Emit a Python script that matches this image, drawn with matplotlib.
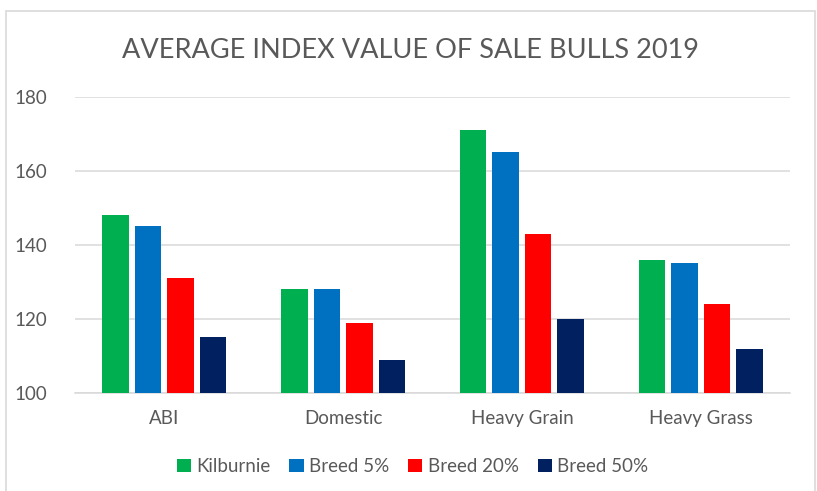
import matplotlib.pyplot as plt
from matplotlib.patches import Rectangle

# data
categories = ['ABI', 'Domestic', 'Heavy Grain', 'Heavy Grass']
series_names = ['Kilburnie', 'Breed 5%', 'Breed 20%', 'Breed 50%']
kilburnie = [148, 128, 171, 136]
breed_5 = [145, 128, 165, 135]
breed_20 = [131, 119, 143, 124]
breed_50 = [115, 109, 120, 112]
y_ticks = [100, 120, 140, 160, 180]

colors = ['#00B050', '#0070C0', '#FF0000', '#002060']
text_grey = '#595959'
plt.rcParams['font.family'] = ['Lato', 'DejaVu Sans']

fig = plt.figure(figsize=(8.17, 4.91), dpi=100)
ax = fig.add_axes([0.0918, 0.1996, 0.8752, 0.6029])

# outer chart border
fig.patches.append(Rectangle((6 / 817, -0.05), 809 / 817, 1.05 - 11 / 491,
                             transform=fig.transFigure, fill=False,
                             edgecolor='#D9D9D9', linewidth=1.2))

x = list(range(len(categories)))
step = 0.182
for i, (name, vals) in enumerate(zip(series_names, [kilburnie, breed_5, breed_20, breed_50])):
    xs = [xi + (i - 1.5) * step for xi in x]
    ax.bar(xs, [v - 100 for v in vals], bottom=100, width=0.148,
           color=colors[i], label=name, zorder=3)

ax.set_xlim(-0.5, 3.5)
ax.set_ylim(100, 180)
ax.set_yticks(y_ticks)
ax.set_xticks(x)
ax.set_xticklabels(categories)
ax.tick_params(axis='both', length=0, labelsize=13.5, labelcolor=text_grey)
ax.tick_params(axis='y', pad=20)
ax.tick_params(axis='x', pad=12)
ax.grid(axis='y', color='#D9D9D9', linewidth=1.1, zorder=0)
for s in ['top', 'right', 'left']:
    ax.spines[s].set_visible(False)
ax.spines['bottom'].set_color('#D9D9D9')
ax.spines['bottom'].set_linewidth(1.1)

fig.text(0.502, 0.898, 'AVERAGE INDEX VALUE OF SALE BULLS 2019', ha='center',
         va='center', fontsize=19.5, color=text_grey)

fig.legend(loc='center', bbox_to_anchor=(0.505, 0.05), ncol=4, frameon=False,
           fontsize=13.5, labelcolor=text_grey, handlelength=0.75, handleheight=0.75,
           handletextpad=0.3, columnspacing=1.0)

plt.savefig('out.png', dpi=100)
